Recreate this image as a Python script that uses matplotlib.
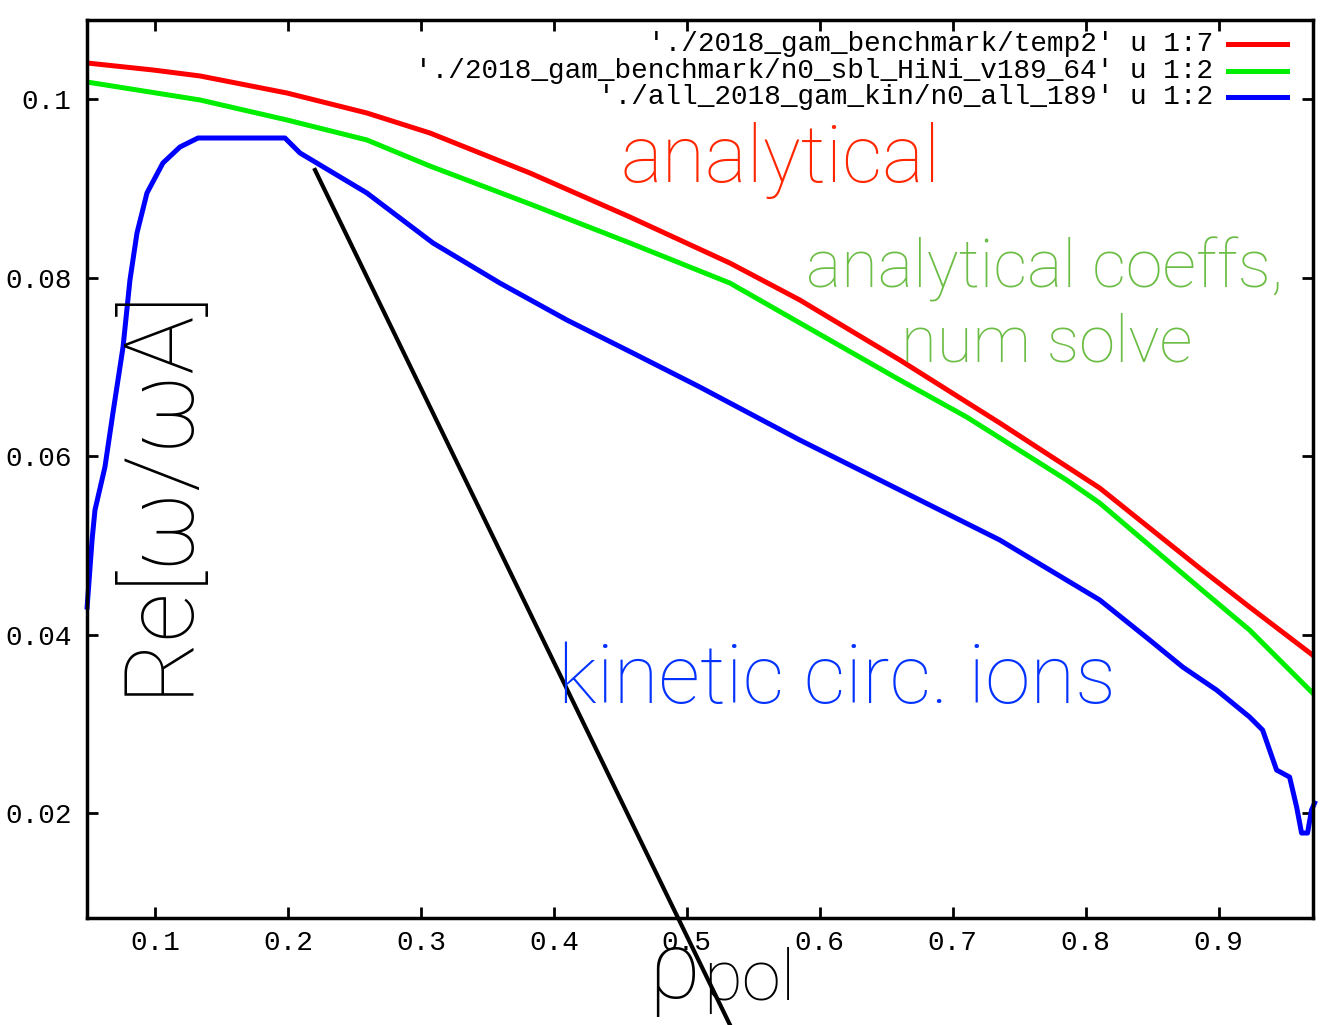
import matplotlib
matplotlib.use("Agg")
import matplotlib.pyplot as plt
from matplotlib.lines import Line2D

# --- data -----------------------------------------------------------------
rho_analytic = [0.049, 0.0985, 0.1339, 0.1993, 0.2594, 0.3068, 0.3820, 0.4572,
                0.5324, 0.5850, 0.6602, 0.7354, 0.8106, 0.8857, 0.9233, 0.9707]
om_analytic = [0.10403, 0.10325, 0.10258, 0.10067, 0.09843, 0.09619, 0.09171, 0.08678,
               0.08162, 0.07748, 0.07076, 0.06370, 0.05641, 0.04745, 0.04308, 0.03770]

rho_numsolve = [0.049, 0.1339, 0.1993, 0.2594, 0.3068, 0.3820, 0.4572, 0.5324,
                0.6075, 0.6602, 0.7105, 0.7857, 0.8106, 0.8857, 0.9233, 0.9707]
om_numsolve = [0.10190, 0.09989, 0.09765, 0.09541, 0.09249, 0.08824, 0.08387, 0.07938,
               0.07300, 0.06852, 0.06437, 0.05731, 0.05473, 0.04521, 0.04050, 0.03345]

rho_kinetic = [0.049, 0.0527, 0.0549, 0.0624, 0.0684, 0.0760, 0.0812, 0.0865, 0.0940,
               0.1060, 0.1188, 0.1324, 0.1978, 0.2091, 0.2594, 0.3091, 0.3594, 0.4098,
               0.4594, 0.5098, 0.5850, 0.6602, 0.7354, 0.8106, 0.8482, 0.8730, 0.8985,
               0.9233, 0.9331, 0.9436, 0.9534, 0.9587, 0.9624, 0.9669, 0.9699, 0.9722]
om_kinetic = [0.04308, 0.05059, 0.05395, 0.05877, 0.06482, 0.07221, 0.07972, 0.08499, 0.08947,
              0.09283, 0.09462, 0.09563, 0.09563, 0.09395, 0.08947, 0.08387, 0.07938, 0.07524,
              0.07154, 0.06773, 0.06179, 0.05619, 0.05059, 0.04387, 0.03938, 0.03636, 0.03378,
              0.03076, 0.02930, 0.02482, 0.02403, 0.02067, 0.01776, 0.01776, 0.02034, 0.02112]

series_labels = ["'./2018_gam_benchmark/temp2' u 1:7",
                 "'./2018_gam_benchmark/n0_sbl_HiNi_v189_64' u 1:2",
                 "'./all_2018_gam_kin/n0_all_189' u 1:2"]

x_ticks = [0.1, 0.2, 0.3, 0.4, 0.5, 0.6, 0.7, 0.8, 0.9]
x_tick_labels = ["0.1", "0.2", "0.3", "0.4", "0.5", "0.6", "0.7", "0.8", "0.9"]
y_ticks = [0.02, 0.04, 0.06, 0.08, 0.1]
y_tick_labels = ["0.02", "0.04", "0.06", "0.08", "0.1"]

# --- figure ---------------------------------------------------------------
W, H = 1327, 1025
fig = plt.figure(figsize=(W / 100, H / 100), dpi=100)
ax = fig.add_axes([87 / W, 1 - 918 / H, (1313 - 87) / W, (918 - 20) / H])


def fx(px):
    return px / W


def fy(py):
    return 1 - py / H


mono = "Liberation Mono"
ax.plot(rho_analytic, om_analytic, color="#ff0000", lw=3.6, solid_joinstyle="round")
ax.plot(rho_numsolve, om_numsolve, color="#00ee00", lw=3.6, solid_joinstyle="round")
ax.plot(rho_kinetic, om_kinetic, color="#0000ff", lw=3.6, solid_joinstyle="round",
        clip_on=False)

ax.set_xlim(0.0489, 0.971)
ax.set_ylim(0.00824, 0.10885)
ax.set_xticks(x_ticks)
ax.set_xticklabels(x_tick_labels, family=mono, fontsize=20)
ax.set_yticks(y_ticks)
ax.set_yticklabels(y_tick_labels, family=mono, fontsize=20)
ax.tick_params(direction="in", top=True, right=True, length=8, width=2, color="black")
ax.tick_params(axis="x", pad=9)
ax.tick_params(axis="y", pad=11)
for sp in ax.spines.values():
    sp.set_linewidth(2.5)

# key in the upper right corner
colors = ["#ff0000", "#00ee00", "#0000ff"]
for lab, col, ly in zip(series_labels, colors, [44, 71, 97]):
    fig.text(fx(1213), fy(ly), lab, family=mono, fontsize=20, ha="right", va="center")
    fig.add_artist(Line2D([fx(1228), fx(1287)], [fy(ly), fy(ly)], color=col, lw=3.6))

# annotations
ann = dict(family="Roboto", fontweight="light")
fig.text(fx(620), fy(182), "analytical", color="#ff2600", fontsize=57, ha="left",
         va="baseline", **ann)
fig.text(fx(806), fy(287), "analytical coeffs,", color="#6cbd45", fontsize=48, ha="left",
         va="baseline", **ann)
fig.text(fx(901), fy(362), "num solve", color="#6cbd45", fontsize=47, ha="left",
         va="baseline", **ann)
fig.text(fx(558), fy(703), "kinetic circ. ions", color="#0433ff", fontsize=59, ha="left",
         va="baseline", **ann)
fig.text(fx(158), fy(490), "Re[ω/ωA]", color="black", fontsize=70, rotation=90,
         ha="center", va="center", **ann)
fig.text(fx(648), fy(998), "ρ", color="black", fontsize=68, ha="left", va="baseline", **ann)
fig.text(fx(703), fy(1000), "pol", color="black", fontsize=51, ha="left", va="baseline", **ann)

# pointer stroke across the plot
fig.add_artist(Line2D([fx(315), fx(730)], [fy(170), fy(1025)], color="black", lw=3))

fig.savefig("out.png", dpi=100)
